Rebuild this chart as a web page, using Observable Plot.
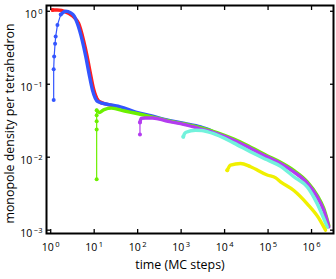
<!DOCTYPE html>
<html><head><meta charset="utf-8">
<script src="https://cdn.jsdelivr.net/npm/d3@7"></script>
<script src="https://cdn.jsdelivr.net/npm/@observablehq/plot@0.6"></script>
<style>body{margin:0;background:#fff}</style>
</head><body><div id="chart"></div>
<script>
const xTicks = [1, 10, 100, 1e3, 1e4, 1e5, 1e6];
const yTicks = [1e-3, 1e-2, 1e-1, 1];
const xTitle = "time (MC steps)";
const yTitle = "monopole density per tetrahedron";

const redT = [1.1, 1.4, 1.8, 2.2, 2.7, 3.5, 4.4, 5.7, 6.9, 8.2, 9.8, 13, 20, 30];
const redV = [1.04, 1.04, 1.03, 0.98, 0.92, 0.82, 0.68, 0.40, 0.24, 0.14, 0.084, 0.058, 0.053, 0.05];

const blueT = [1.17, 1.17, 1.2, 1.26, 1.3, 1.43, 1.7, 2.2, 2.9, 3.5, 4.1, 5.3, 6.4, 7.6, 9.1, 12, 24, 40, 90, 200, 525, 1200, 2800, 5000];
const blueV = [0.061, 0.16, 0.24, 0.36, 0.45, 0.65, 0.9, 1.0, 0.95, 0.85, 0.68, 0.40, 0.24, 0.14, 0.084, 0.058, 0.052, 0.049, 0.0415, 0.037, 0.032, 0.029, 0.026, 0.023];

const greenT = [11.4, 11.4, 11.4, 11.4, 11.4, 13, 17, 25, 50, 90, 200, 525, 1200, 2800, 6700, 16400, 40000, 95000, 194000, 390000, 800000, 1.35e6, 1.9e6, 2.5e6];
const greenV = [0.005, 0.024, 0.031, 0.0376, 0.044, 0.041, 0.045, 0.047, 0.043, 0.040, 0.036, 0.0315, 0.0285, 0.0255, 0.0218, 0.0177, 0.0137, 0.0105, 0.0085, 0.0066, 0.0046, 0.0030, 0.0020, 0.00115];

const purpleT = [113, 113, 120, 150, 220, 500, 1200, 2800, 6700, 16400, 40000, 95000, 194000, 390000, 800000, 1.35e6, 1.9e6, 2.5e6];
const purpleV = [0.0205, 0.030, 0.034, 0.0345, 0.0345, 0.031, 0.028, 0.0245, 0.0211, 0.0171, 0.0132, 0.0101, 0.0082, 0.0063, 0.0044, 0.00286, 0.00188, 0.00111];

const cyanT = [1120, 1200, 1300, 2150, 3000, 5200, 16400, 40000, 95000, 194000, 390000, 800000, 1.35e6, 2.3e6];
const cyanV = [0.019, 0.021, 0.022, 0.0234, 0.0232, 0.0213, 0.0156, 0.0118, 0.0092, 0.0075, 0.0054, 0.0039, 0.0023, 0.0011];

const yellowT = [11500, 13700, 23300, 39600, 95700, 150000, 194000, 392000, 795000, 1.43e6, 2.1e6];
const yellowV = [0.0066, 0.0078, 0.0082, 0.0074, 0.0057, 0.0052, 0.0046, 0.0035, 0.0023, 0.0015, 0.001];

// "head" = number of leading samples drawn as a thin line with markers
const series = [
  {color: "#ff1e1e", t: redT, v: redV, head: 0},
  {color: "#3355ff", t: blueT, v: blueV, head: 6},
  {color: "#6cf000", t: greenT, v: greenV, head: 4},
  {color: "#b43cf0", t: purpleT, v: purpleV, head: 1},
  {color: "#72f2dc", t: cyanT, v: cyanV, head: 0},
  {color: "#f0f000", t: yellowT, v: yellowV, head: 0}
];

const expFmt = d => "10^" + Math.round(Math.log10(d));
const marks = [];
for (const s of series) {
  const data = s.t.map((t, i) => ({t, v: s.v[i]}));
  const body = data.slice(s.head);
  marks.push(Plot.line(data, {x: "t", y: "v", stroke: s.color, strokeWidth: 1.2}));
  marks.push(Plot.dot(data.slice(0, s.head + 1), {x: "t", y: "v", fill: s.color, r: 2}));
  marks.push(Plot.line(body, {x: "t", y: "v", stroke: s.color, strokeWidth: 3.4, curve: "monotone-x", strokeLinecap: "round"}));
}

const chart = Plot.plot({
  width: 336, height: 279,
  marginLeft: 46, marginRight: 3, marginTop: 5, marginBottom: 46,
  style: {fontFamily: "'Open Sans', sans-serif", fontSize: "10.5px", background: "#fff", color: "#000"},
  x: {type: "log", domain: [0.8, 3.2e6]},
  y: {type: "log", domain: [9e-4, 1.2]},
  marks: [
    ...marks,
    Plot.frame({stroke: "#000", strokeWidth: 2}),
    Plot.axisX(xTicks, {anchor: "bottom", tickSize: -4, tickFormat: () => "", label: null, strokeWidth: 1.3}),
    Plot.axisX(xTicks, {anchor: "top", tickSize: -4, tickFormat: () => "", label: null, strokeWidth: 1.3}),
    Plot.axisY(yTicks, {anchor: "left", tickSize: -4, tickFormat: () => "", label: null, strokeWidth: 1.3}),
    Plot.axisY(yTicks, {anchor: "right", tickSize: -4, tickFormat: () => "", label: null, strokeWidth: 1.3}),
    Plot.axisX(xTicks, {anchor: "bottom", tickSize: 0, tickPadding: 10, tickFormat: expFmt, label: null}),
    Plot.axisY(yTicks, {anchor: "left", tickSize: 0, tickPadding: 4, tickFormat: expFmt, label: null, dy: 3}),
    Plot.text([xTitle], {frameAnchor: "bottom", dy: 35, dx: -10, fontSize: 12.4, textAnchor: "middle"}),
    Plot.text([yTitle], {frameAnchor: "left", dx: -36, dy: 4, rotate: -90, fontSize: 12.4, textAnchor: "middle", lineAnchor: "middle"})
  ]
});

d3.select(chart).selectAll("text").each(function() {
  const m = /^10\^(.+)$/.exec(this.textContent);
  if (m) {
    this.textContent = "10";
    const ts = document.createElementNS("http://www.w3.org/2000/svg", "tspan");
    ts.setAttribute("dy", "-0.5em");
    ts.setAttribute("dx", "1.5");
    ts.setAttribute("font-size", "0.72em");
    ts.textContent = m[1].replace("-", "\u2212");
    this.appendChild(ts);
  }
});

document.getElementById("chart").appendChild(chart);
</script>
</body></html>
